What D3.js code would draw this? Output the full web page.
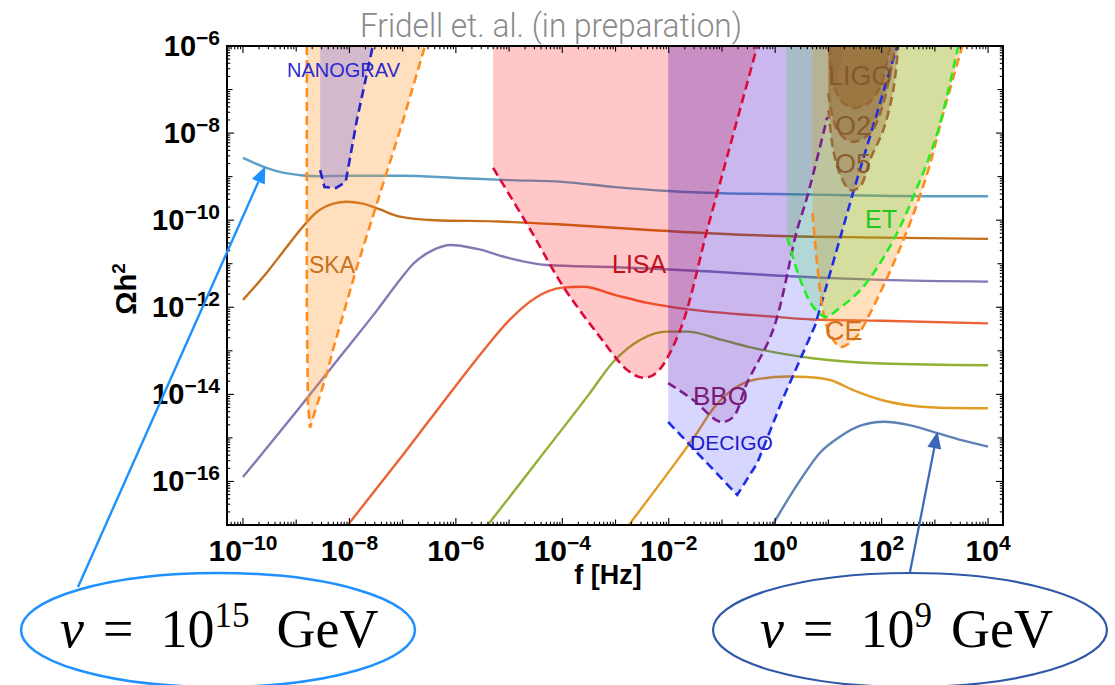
<!DOCTYPE html>
<html><head><meta charset="utf-8">
<script src="https://cdn.jsdelivr.net/npm/d3@7"></script>
<style>body{margin:0;background:#fff;} svg{display:block;}</style>
</head><body>
<svg id="c" width="1115" height="685"></svg>
<script>
// ---------- DATA (log10 f [Hz], log10 Ωh²) ----------
const xTickExps = [-10, -8, -6, -4, -2, 0, 2, 4];
const yTickExps = [-6, -8, -10, -12, -14, -16];

const series_v15 = [[-10,-8.57],[-9.6,-8.78],[-9.2,-8.92],[-8.6,-8.99],[-8,-8.98],[-7,-8.98],[-6,-9.03],[-5,-9.08],[-4,-9.12],[-3,-9.24],[-2,-9.33],[-1,-9.38],[0,-9.40],[1,-9.42],[2,-9.44],[3,-9.45],[4,-9.45]];
const series_v14 = [[-10,-11.83],[-9.55,-11.2],[-9.2,-10.65],[-8.93,-10.23],[-8.6,-9.8],[-8.3,-9.62],[-8.05,-9.575],[-7.75,-9.62],[-7.45,-9.74],[-7.05,-9.92],[-6.4,-10.0],[-5.2,-10.03],[-4,-10.1],[-2.3,-10.23],[-0.5,-10.34],[2,-10.4],[4,-10.43]];
const series_v13 = [[-10,-15.9],[-9,-14.4],[-8,-12.87],[-7.5,-12.1],[-7.05,-11.37],[-6.8,-11.0],[-6.45,-10.7],[-6.1,-10.57],[-5.6,-10.66],[-5.0,-10.87],[-4.3,-11.03],[-3,-11.08],[-1.2,-11.18],[0,-11.27],[2,-11.37],[4,-11.41]];
const series_v12 = [[-8.03,-17],[-7,-15.4],[-6,-13.8],[-5.5,-13.02],[-5.0,-12.3],[-4.5,-11.78],[-4.0,-11.55],[-3.6,-11.53],[-3.0,-11.72],[-2.4,-11.9],[-1.8,-12.02],[0,-12.22],[0.7,-12.28],[2,-12.31],[4,-12.37]];
const series_v11 = [[-5.4,-17],[-4.5,-15.58],[-3.5,-14.0],[-3.04,-13.25],[-2.54,-12.75],[-2.03,-12.56],[-1.66,-12.56],[-1.0,-12.75],[-0.5,-12.91],[0.7,-13.17],[2,-13.29],[4,-13.33]];
const series_v10 = [[-2.75,-17],[-2.0,-15.78],[-1.5,-14.94],[-1.16,-14.32],[-0.75,-13.85],[-0.41,-13.67],[0.22,-13.59],[0.6,-13.6],[1.03,-13.67],[1.5,-13.92],[2,-14.13],[2.5,-14.25],[3,-14.3],[4,-14.32]];
const series_v9  = [[-0.05,-17],[0.47,-15.97],[0.85,-15.33],[1.22,-14.97],[1.6,-14.72],[2.04,-14.63],[2.5,-14.7],[2.97,-14.86],[3.5,-15.05],[4,-15.2]];

// detector sensitivity boundaries
const ska_curve      = [[-8.8,-6],[-8.8,-12],[-8.78,-14.2],[-8.74,-14.77],[-8.68,-14.52],[-8.42,-13.51],[-8.31,-12.98],[-7.86,-11.08],[-6.99,-7.7],[-6.58,-6]];
const nanograv_curve = [[-8.55,-8.85],[-8.47,-9.24],[-8.25,-9.26],[-8.07,-9.12],[-7.86,-7.7],[-7.56,-6]];
const lisa_curve     = [[-5.3,-8.8],[-4.6,-10.22],[-3.98,-11.53],[-3.35,-12.59],[-2.78,-13.44],[-2.48,-13.62],[-2.22,-13.49],[-1.785,-12.52],[-1.28,-10.23],[-1.09,-9.38],[-0.337,-6]];
const bbo_curve      = [[-2.011,-13.74],[-1.54,-14.13],[-1.03,-14.63],[-0.79,-14.52],[-0.53,-13.74],[-0.04,-12.52],[0.41,-10.23],[0.6,-9.47],[0.98,-7.63]];
const decigo_curve   = [[-2.011,-14.635],[-0.714,-16.31],[-0.338,-15.58],[0.151,-14.08],[0.753,-12.41],[1.467,-9.35],[2.294,-6]];
const et_curve       = [[0.226,-10.39],[0.471,-11.37],[0.715,-11.99],[0.941,-12.22],[1.166,-12.06],[1.655,-11.53],[2.219,-10.46],[2.67,-9.24],[3.046,-8.0],[3.44,-6]];
const ce_curve       = [[0.7,-9.835],[0.906,-12.13],[1.04,-12.64],[1.226,-12.91],[1.5,-12.71],[1.786,-12.13],[2.407,-10.46],[2.858,-8.92],[3.159,-7.54],[3.516,-6]];
const ligo_o1_curve  = [[1.016,-6],[1.09,-6.85],[1.28,-7.31],[1.47,-7.42],[1.73,-7.33],[1.97,-6.94],[2.16,-6]];
const ligo_o2_curve  = [[0.997,-7.08],[1.166,-7.93],[1.448,-8.2],[1.786,-8.0],[2.012,-7.4],[2.162,-6.62],[2.256,-6]];
const ligo_o5_curve  = [[1.0,-7.47],[1.091,-8.39],[1.222,-8.96],[1.41,-9.31],[1.6,-9.22],[1.786,-8.6],[2.03,-7.93],[2.218,-7.01],[2.312,-6]];
// left vertical edges of regions (log10 f) and closing top-right point of BBO
const nanograv_left = -8.55, lisa_left = -5.3, bbo_left = -2.011, decigo_left = -2.011, et_left = 0.208, ce_left = 0.7, ligo_left = 0.997, bbo_right_top = 1.32;

// arrow targets on curves (log10 f, log10 Ωh²)
const arrow15_target = [-9.58, -8.76];
const arrow9_target  = [3.05, -14.85];

// ---------- STYLE ----------
const seriesList = [series_v15, series_v14, series_v13, series_v12, series_v11, series_v10, series_v9];
const seriesColors = ['#5D9EC7','#C56E1A','#8778B3','#EB6235','#8FB032','#E19C24','#5E81B5'];

const svg = d3.select('#c');
const X0 = 227, X1 = 1003, Y0 = 46, Y1 = 525;
const x = d3.scaleLog().domain([Math.pow(10,-10.3), Math.pow(10,4.28)]).range([X0, X1]);
const y = d3.scaleLog().domain([1e-17, 1e-6]).range([Y1, Y0]);
const px = d => x(Math.pow(10, d[0])), py = d => y(Math.pow(10, d[1]));

svg.append('defs').append('clipPath').attr('id','clip')
  .append('rect').attr('x',X0).attr('y',Y0).attr('width',X1-X0).attr('height',Y1-Y0);
const plot = svg.append('g').attr('clip-path','url(#clip)');

// curves
const lineMono = d3.line().x(px).y(py).curve(d3.curveMonotoneX);
seriesList.forEach((s,i) => {
  plot.append('path').attr('d', lineMono(s)).attr('fill','none')
    .attr('stroke', seriesColors[i]).attr('stroke-width', 2.4);
});

// regions
const lineCR = d3.line().x(px).y(py).curve(d3.curveCatmullRom.alpha(0.5));
const lineLin = d3.line().x(px).y(py);
function regionPath(gen, pre, curve, post) {
  const d = gen(curve);
  let s = pre.length ? 'M' + pre.map(p => px(p)+','+py(p)).join('L') + 'L' + d.slice(1) : d;
  post.forEach(p => { s += 'L' + px(p) + ',' + py(p); });
  return s + 'Z';
}
const detectors = [
  {curve: ska_curve, gen: lineLin, pre: [], post: [], fill: 'rgba(255,150,40,0.30)', stroke: '#ff8c1e'},
  {curve: nanograv_curve, gen: lineLin, pre: [[nanograv_left,-6]], post: [], fill: 'rgba(120,110,230,0.33)', stroke: '#2323c8'},
  {curve: lisa_curve, gen: lineCR, pre: [[lisa_left,-6]], post: [], fill: 'rgba(255,0,0,0.22)', stroke: '#dc0a3c'},
  {curve: decigo_curve, gen: lineLin, pre: [[decigo_left,-6]], post: [], fill: 'rgba(0,0,255,0.16)', stroke: '#1e2ee6'},
  {curve: bbo_curve, gen: lineCR, pre: [[bbo_left,-6]], post: [[bbo_right_top,-6]], fill: 'rgba(128,0,128,0.14)', stroke: '#7b1f8c'},
  {curve: ce_curve, gen: lineCR, pre: [[ce_left,-6]], post: [], fill: 'rgba(255,150,40,0.30)', stroke: '#ff8a1e'},
  {curve: et_curve, gen: lineCR, pre: [[et_left,-6]], post: [], fill: 'rgba(0,215,0,0.16)', stroke: '#22ee22'},
  {curve: ligo_o5_curve, gen: lineCR, pre: [[ligo_left,-6]], post: [], fill: 'rgba(140,80,20,0.30)', stroke: 'rgba(150,100,50,0.9)'},
  {curve: ligo_o2_curve, gen: lineCR, pre: [[ligo_left,-6]], post: [], fill: 'rgba(140,80,20,0.30)', stroke: 'rgba(150,100,50,0.9)'},
  {curve: ligo_o1_curve, gen: lineCR, pre: [], post: [], fill: 'rgba(140,80,20,0.30)', stroke: 'rgba(150,100,50,0.9)'}
];
detectors.forEach(dt => {
  plot.append('path').attr('d', regionPath(dt.gen, dt.pre, dt.curve, dt.post)).attr('fill', dt.fill).attr('stroke','none');
});
detectors.forEach(dt => {
  plot.append('path').attr('d', dt.gen(dt.curve)).attr('fill','none').attr('stroke', dt.stroke)
    .attr('stroke-width', 2.6).attr('stroke-dasharray','9,5');
});

// region labels (pixel layout)
const labelLayout = [
  {t:'NANOGRAV', x:287, y:77, size:20, c:'#2a2ad0'},
  {t:'SKA', x:309, y:273, size:23, c:'#c8701e'},
  {t:'LISA', x:612, y:273, size:25, c:'#c0101e'},
  {t:'BBO', x:693, y:405, size:26, c:'#7a1a78'},
  {t:'DECIGO', x:690, y:450, size:21, c:'#1c1cc8'},
  {t:'LIGO', x:828, y:85, size:27, c:'rgba(130,85,40,0.9)'},
  {t:'O2', x:835, y:135, size:27, c:'rgba(130,85,40,0.9)'},
  {t:'O5', x:835, y:173, size:27, c:'rgba(130,85,40,0.9)'},
  {t:'ET', x:865, y:228, size:25, c:'#22c822'},
  {t:'CE', x:825, y:340, size:27, c:'#d2701a'}
];
labelLayout.forEach(l => {
  svg.append('text').attr('x',l.x).attr('y',l.y).text(l.t)
    .attr('font-family','"Liberation Sans", Arial, sans-serif').attr('font-size',l.size).attr('fill',l.c);
});

// ticks
function ticksFor(lo, hi) {
  const out = [];
  for (let e = Math.floor(lo); e <= Math.ceil(hi); e++) {
    for (let k = 1; k < 10; k++) {
      const lv = Math.log10(k) + e;
      if (lv >= lo - 1e-9 && lv <= hi + 1e-9) out.push({v: k * Math.pow(10, e), k, e});
    }
  }
  return out;
}
const tg = svg.append('g').attr('stroke','#000').attr('stroke-width',1.1);
ticksFor(-10.3, 4.28).forEach(t => {
  const xx = x(t.v);
  const len = t.k === 1 ? (t.e % 2 === 0 ? 7 : 5.5) : 3.2;
  tg.append('line').attr('x1',xx).attr('x2',xx).attr('y1',Y1).attr('y2',Y1-len);
  tg.append('line').attr('x1',xx).attr('x2',xx).attr('y1',Y0).attr('y2',Y0+len);
});
ticksFor(-17, -6).forEach(t => {
  const yy = y(t.v);
  const len = t.k === 1 ? (t.e % 2 === 0 ? 7 : 5.5) : 3.2;
  tg.append('line').attr('y1',yy).attr('y2',yy).attr('x1',X0).attr('x2',X0+len);
  tg.append('line').attr('y1',yy).attr('y2',yy).attr('x1',X1).attr('x2',X1-len);
});
svg.append('rect').attr('x',X0).attr('y',Y0).attr('width',X1-X0).attr('height',Y1-Y0)
  .attr('fill','none').attr('stroke','#000').attr('stroke-width',2);

const FONT = '"Liberation Sans", Arial, sans-serif';
function expLabel(xx, yy, e, anchor, size, supSize) {
  const t = svg.append('text').attr('x',xx).attr('y',yy).attr('text-anchor',anchor)
    .attr('font-family',FONT).attr('font-weight','bold').attr('font-size',size).attr('fill','#000');
  t.append('tspan').text('10');
  t.append('tspan').attr('dy',-11).attr('font-size',supSize).text(e < 0 ? '\u2212' + (-e) : String(e));
}
xTickExps.forEach(e => expLabel(x(Math.pow(10,e)), 561, e, 'middle', 30, 21));
yTickExps.forEach(e => expLabel(220, y(Math.pow(10,e)) + 10, e, 'end', 29, 21));

// axis titles
svg.append('text').attr('x',608).attr('y',584).attr('text-anchor','middle')
  .attr('font-family',FONT).attr('font-weight','bold').attr('font-size',27).text('f [Hz]');
const yt = svg.append('text').attr('transform','translate(136,289) rotate(-90)').attr('text-anchor','middle')
  .attr('font-family',FONT).attr('font-weight','bold').attr('font-size',29);
yt.append('tspan').text('\u03A9h');
yt.append('tspan').attr('dy',-11).attr('font-size',19).text('2');

// title
svg.append('text').attr('x',360).attr('y',37).text('Fridell et. al. (in preparation)')
  .attr('font-family','Roboto, "Open Sans", sans-serif').attr('font-weight',300).attr('font-size',33)
  .attr('fill','#8a8a8a').attr('textLength',382).attr('lengthAdjust','spacingAndGlyphs');

// annotations
function arrow(x1, y1, x2, y2, color, w) {
  const ang = Math.atan2(y2 - y1, x2 - x1), L = 17, W = 7;
  const bx = x2 - L * Math.cos(ang), by = y2 - L * Math.sin(ang);
  svg.append('line').attr('x1',x1).attr('y1',y1).attr('x2',bx).attr('y2',by).attr('stroke',color).attr('stroke-width',w);
  const p = [[x2,y2],[bx + W*Math.sin(ang), by - W*Math.cos(ang)],[bx - W*Math.sin(ang), by + W*Math.cos(ang)]];
  svg.append('polygon').attr('points', p.map(q => q.join(',')).join(' ')).attr('fill',color);
}
arrow(78, 587, px(arrow15_target), py(arrow15_target), '#1e90ff', 2.4);
arrow(910, 572, px(arrow9_target), py(arrow9_target), '#3a66b8', 2.2);

svg.append('ellipse').attr('cx',218).attr('cy',630).attr('rx',197).attr('ry',57)
  .attr('fill','none').attr('stroke','#1e90ff').attr('stroke-width',2.5);
svg.append('ellipse').attr('cx',910).attr('cy',630).attr('rx',197).attr('ry',57)
  .attr('fill','none').attr('stroke','#2f58a8').attr('stroke-width',2.2);

// formula texts: left x, exponent, gap before GeV
function vevText(x0, exp, gevGap) {
  const t = svg.append('text').attr('x', x0).attr('y', 647)
    .attr('font-family','"Liberation Serif", "DejaVu Serif", serif').attr('font-size',54).attr('fill','#000');
  t.append('tspan').attr('font-style','italic').text('v');
  t.append('tspan').attr('dx',19).text('=');
  t.append('tspan').attr('dx',27).text('10');
  t.append('tspan').attr('dy',-20).attr('font-size',35).text(exp);
  t.append('tspan').attr('dy',20).attr('dx',gevGap).text('GeV');
}
vevText(60, '15', 27);
vevText(760, '9', 19);
</script>
</body></html>
